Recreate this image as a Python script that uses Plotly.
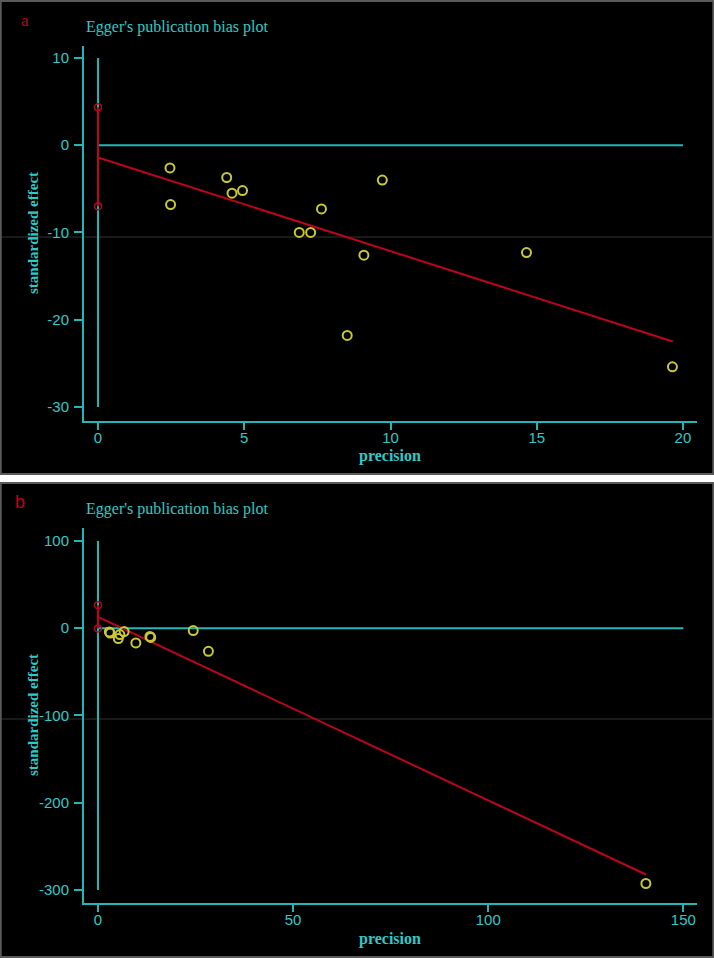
import plotly.graph_objects as go

# panel a: Egger's test data
prec_a = [2.46, 2.48, 4.40, 4.58, 4.94, 6.88, 7.27, 7.64, 8.52, 9.09, 9.72, 14.65, 19.64]
eff_a = [-2.6, -6.8, -3.7, -5.5, -5.2, -10.0, -10.0, -7.3, -21.8, -12.6, -4.0, -12.3, -25.4]
fit_x_a = [0, 19.65]
fit_y_a = [-1.4, -22.5]
ci_a = [4.35, -7.0]
vref_a = [10, -30]
href_a = [0, 20]
xticks_a = [0, 5, 10, 15, 20]
yticks_a = [-30, -20, -10, 0, 10]

# panel b
prec_b = [2.9, 3.1, 5.2, 5.6, 6.7, 9.7, 13.3, 13.5, 24.4, 28.3, 140.4]
eff_b = [-4.2, -5.5, -11.8, -7.2, -3.8, -16.8, -9.4, -10.5, -2.7, -26.4, -292.6]
fit_x_b = [0, 140.4]
fit_y_b = [13, -282.3]
ci_b = [26.4, -0.3]
vref_b = [100, -300]
href_b = [0, 150]
xticks_b = [0, 50, 100, 150]
yticks_b = [-300, -200, -100, 0, 100]

CYAN = '#1fb8b8'
CYAN_TXT = '#2ccaca'
RED = '#bc041c'
YELLOW = '#c8c832'
W, H = 714, 958


def add_panel(fig, n, prec, eff, fit_x, fit_y, ci, vref, href):
    xa, ya = ('x', 'y') if n == 1 else ('x%d' % n, 'y%d' % n)
    # reference lines
    fig.add_trace(go.Scatter(x=[0, 0], y=vref, mode='lines', line=dict(color=CYAN, width=2),
                             xaxis=xa, yaxis=ya, showlegend=False))
    fig.add_trace(go.Scatter(x=href, y=[0, 0], mode='lines', line=dict(color=CYAN, width=2),
                             xaxis=xa, yaxis=ya, showlegend=False))
    # regression line and CI of intercept
    fig.add_trace(go.Scatter(x=fit_x, y=fit_y, mode='lines', line=dict(color=RED, width=2),
                             xaxis=xa, yaxis=ya, showlegend=False))
    fig.add_trace(go.Scatter(x=[0, 0], y=ci, mode='lines+markers', line=dict(color=RED, width=2),
                             marker=dict(symbol='circle-open', size=7, color=RED, line=dict(width=1.5)),
                             xaxis=xa, yaxis=ya, showlegend=False))
    # studies
    fig.add_trace(go.Scatter(x=prec, y=eff, mode='markers',
                             marker=dict(symbol='circle-open', size=9, color=YELLOW, line=dict(width=2)),
                             xaxis=xa, yaxis=ya, showlegend=False))


def labels(vals):
    # stata style: plain hyphen for negatives
    return [str(v) for v in vals]


fig = go.Figure()
add_panel(fig, 1, prec_a, eff_a, fit_x_a, fit_y_a, ci_a, vref_a, href_a)
add_panel(fig, 2, prec_b, eff_b, fit_x_b, fit_y_b, ci_b, vref_b, href_b)

xdom = [84 / W, 697 / W]
axis_common = dict(showgrid=False, zeroline=False, showline=True, linecolor=CYAN, linewidth=2,
                   ticks='outside', tickcolor=CYAN, tickwidth=2,
                   tickfont=dict(family='Liberation Sans', size=15, color=CYAN_TXT))

fig.update_layout(
    width=W, height=H,
    margin=dict(l=0, r=0, t=0, b=0),
    paper_bgcolor='black', plot_bgcolor='black',
    xaxis=dict(domain=xdom, range=[-0.48, 20.48], tickvals=xticks_a, ticktext=labels(xticks_a),
               ticklen=7, ticklabelstandoff=-5, anchor='y', **axis_common),
    yaxis=dict(domain=[1 - 420.7 / H, 1 - 46 / H], range=[-31.57, 11.37],
               tickvals=yticks_a, ticktext=labels(yticks_a), ticklen=8, ticklabelstandoff=2,
               anchor='x', **axis_common),
    xaxis2=dict(domain=xdom, range=[-3.59, 153.5], tickvals=xticks_b, ticktext=labels(xticks_b),
                ticklen=7, ticklabelstandoff=-5, anchor='y2', **axis_common),
    yaxis2=dict(domain=[1 - 902.7 / H, 1 - 528 / H], range=[-314.6, 114.9],
                tickvals=yticks_b, ticktext=labels(yticks_b), ticklen=8, ticklabelstandoff=2,
                anchor='x2', **axis_common),
)

serif = 'Liberation Serif'
notes = [
    ('a', 25, 20, RED, 17, serif),
    ('b', 20, 502, RED, 18, 'Liberation Sans'),
]
for txt, px, py, col, sz, fam in notes:
    fig.add_annotation(text=txt, x=px / W, y=1 - py / H, xref='paper', yref='paper',
                       showarrow=False, xanchor='center', yanchor='middle',
                       font=dict(family=fam, size=sz, color=col))

for py in (27, 509):
    fig.add_annotation(text="Egger's publication bias plot", x=84 / W, y=1 - py / H,
                       xref='paper', yref='paper', showarrow=False, xanchor='left', yanchor='middle',
                       font=dict(family=serif, size=16, color=CYAN_TXT))
for py in (456, 939):
    fig.add_annotation(text='<b>precision</b>', x=390 / W, y=1 - py / H, xref='paper', yref='paper',
                       showarrow=False, xanchor='center', yanchor='middle',
                       font=dict(family=serif, size=16, color=CYAN_TXT))
for py in (233, 715):
    fig.add_annotation(text='<b>standardized effect</b>', x=33 / W, y=1 - py / H, xref='paper',
                       yref='paper', showarrow=False, textangle=-90, xanchor='center', yanchor='middle',
                       font=dict(family=serif, size=15, color=CYAN_TXT))

# white gap between panels, thin frames and the faint scan lines
fig.add_shape(type='rect', xref='paper', yref='paper', x0=0, x1=1, y0=1 - 482 / H, y1=1 - 475 / H,
              fillcolor='white', line=dict(width=0), layer='below')
for top, bot in ((0, 475), (482, 958)):
    fig.add_shape(type='rect', xref='paper', yref='paper', x0=0.001, x1=0.999,
                  y0=1 - bot / H + 0.001, y1=1 - top / H - 0.001,
                  line=dict(color='#5a5a5a', width=2))
for py in (237, 719):
    fig.add_shape(type='line', xref='paper', yref='paper', x0=0, x1=1, y0=1 - py / H, y1=1 - py / H,
                  line=dict(color='#333333', width=1), layer='below')

fig.write_html("out.html", config={'displayModeBar': False},
               post_script="document.body.style.margin='0';")
